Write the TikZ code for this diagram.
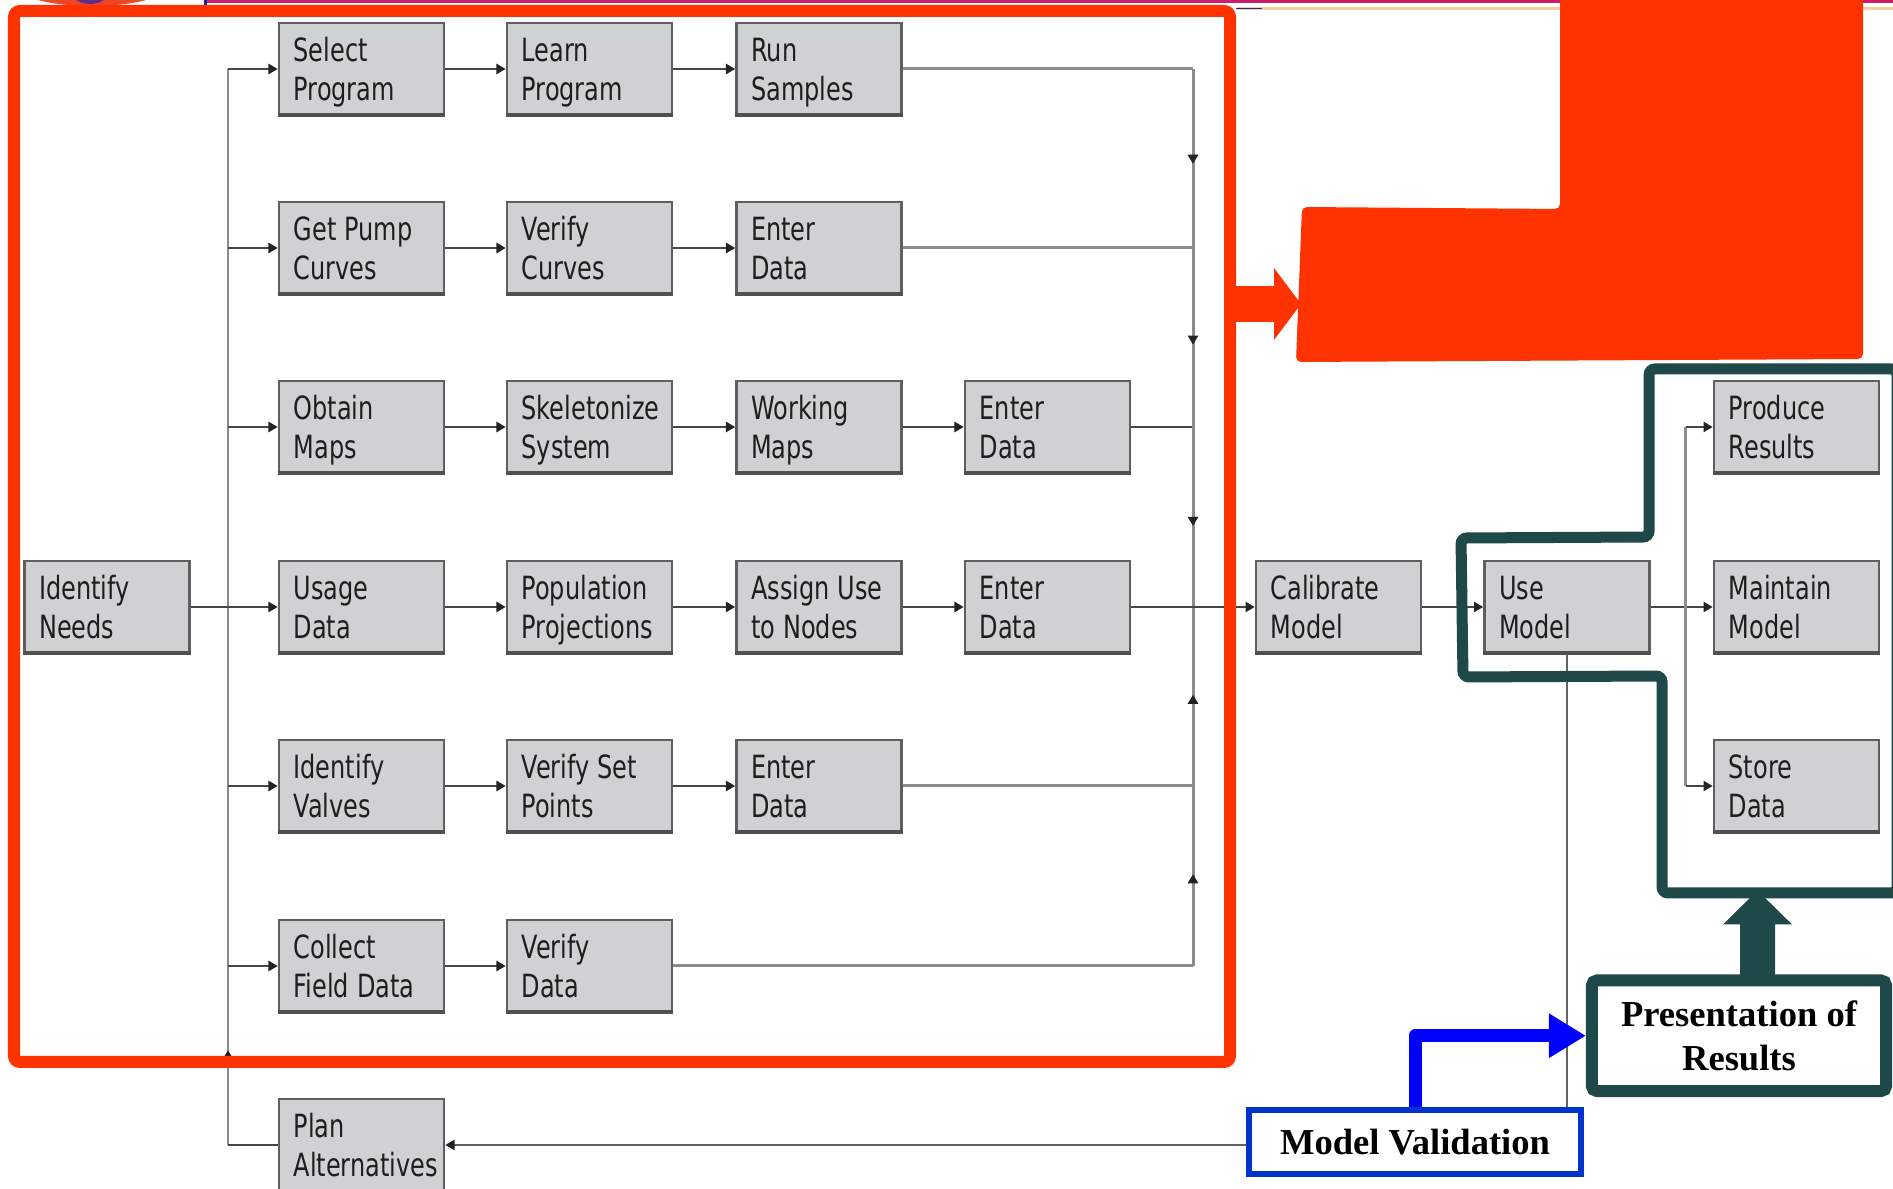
\documentclass[tikz,border=0pt]{standalone}
\usepackage{graphicx}
\usepackage{fontspec}
\usetikzlibrary{arrows.meta,decorations.markings}

\newfontfamily\boxfont{DejaVu Sans}
\newfontfamily\notefont{Liberation Serif}

\definecolor{boxfill}{RGB}{208,209,211}
\definecolor{boxline}{RGB}{95,95,95}
\definecolor{boxshade}{RGB}{80,80,80}
\definecolor{boxtext}{RGB}{30,30,30}
\definecolor{linkgray}{RGB}{70,70,70}
\definecolor{busgray}{RGB}{140,140,140}
\definecolor{tipgray}{RGB}{35,35,35}
\definecolor{framered}{RGB}{255,51,0}
\definecolor{deepteal}{RGB}{31,72,73}
\definecolor{valblue}{RGB}{0,51,204}
\definecolor{arrowblue}{RGB}{0,0,255}
\definecolor{headerpink}{RGB}{205,30,110}
\definecolor{headerpeach}{RGB}{250,205,160}
\definecolor{headerblue}{RGB}{25,40,150}
\definecolor{logored}{RGB}{238,70,40}
\definecolor{logopurple}{RGB}{95,45,140}

% two-line, left-aligned, horizontally condensed box label
\newcommand\boxtxt[2]{\raisebox{0pt}[\dimexpr\height+2.3pt\relax][\depth]{\scalebox{0.75}[1]{\begin{tabular}{@{}l@{}}#1\\#2\end{tabular}}}}

\tikzset{
  stepbox/.style={draw=boxline, fill=boxfill, line width=0.75pt,
    minimum height=0.92cm, inner xsep=0.147cm, inner ysep=0pt,
    text width=1.356cm, align=left, text=boxtext,
    font=\boxfont\fontsize{9.1pt}{11.1pt}\selectfont},
  link/.style={draw=linkgray, line width=0.55pt},
  buslink/.style={draw=busgray, line width=0.85pt},
  thinlink/.style={draw=linkgray!85, line width=0.45pt},
  tip/.style={-{Triangle[length=2.6pt,width=2.9pt,color=tipgray]}},
  midtip/.style={postaction={decorate}, decoration={markings,
    mark=at position #1 with {\arrow{Triangle[length=2.6pt,width=2.9pt,color=tipgray]}}}},
  notebox/.style={fill=white, inner sep=0pt, align=center,
    font=\notefont\bfseries\fontsize{10.4pt}{12.5pt}\selectfont},
}

\begin{document}
\begin{tikzpicture}[x=0.01cm, y=-0.01cm]
\useasboundingbox (0,0) rectangle (1893,1189);
\clip (0,0) rectangle (1893,1189);
\fill[white] (0,0) rectangle (1893,1189);

% strip of the page header
\fill[logored] (92,-14) ellipse [x radius=76, y radius=20];
\fill[logopurple] (90,-14) ellipse [x radius=22, y radius=18];
\fill[headerpink] (206,0) rectangle (1893,3.5);
\fill[headerblue] (204,0) rectangle (207,5);
\fill[headerpeach] (1237,7) rectangle (1893,10);
\fill[headerblue] (1236,8) rectangle (1262,9.5);

% ---------- process boxes ----------
\node[stepbox] (need)   at (107,607)    {\boxtxt{Identify}{Needs}};

\node[stepbox] (sel)    at (361.5,69)   {\boxtxt{Select}{Program}};
\node[stepbox] (learn)  at (589.5,69)   {\boxtxt{Learn}{Program}};
\node[stepbox] (run)    at (819,69)     {\boxtxt{Run}{Samples}};

\node[stepbox] (pump)   at (361.5,248)  {\boxtxt{Get Pump}{Curves}};
\node[stepbox] (vcurv)  at (589.5,248)  {\boxtxt{Verify}{Curves}};
\node[stepbox] (ent1)   at (819,248)    {\boxtxt{Enter}{Data}};

\node[stepbox] (maps)   at (361.5,427)  {\boxtxt{Obtain}{Maps}};
\node[stepbox] (skel)   at (589.5,427)  {\boxtxt{Skeletonize}{System}};
\node[stepbox] (wmaps)  at (819,427)    {\boxtxt{Working}{Maps}};
\node[stepbox] (ent2)   at (1047.5,427) {\boxtxt{Enter}{Data}};

\node[stepbox] (usage)  at (361.5,607)  {\boxtxt{Usage}{Data}};
\node[stepbox] (pop)    at (589.5,607)  {\boxtxt{Population}{Projections}};
\node[stepbox] (assign) at (819,607)    {\boxtxt{Assign Use}{to Nodes}};
\node[stepbox] (ent3)   at (1047.5,607) {\boxtxt{Enter}{Data}};
\node[stepbox] (calib)  at (1338.5,607) {\boxtxt{Calibrate}{Model}};
\node[stepbox] (use)    at (1567,607)   {\boxtxt{Use}{Model}};

\node[stepbox] (valves) at (361.5,786)  {\boxtxt{Identify}{Valves}};
\node[stepbox] (setpt)  at (589.5,786)  {\boxtxt{Verify Set}{Points}};
\node[stepbox] (ent4)   at (819,786)    {\boxtxt{Enter}{Data}};

\node[stepbox] (field)  at (361.5,966)  {\boxtxt{Collect}{Field Data}};
\node[stepbox] (vdata)  at (589.5,966)  {\boxtxt{Verify}{Data}};

\node[stepbox] (plan)   at (361.5,1145) {\boxtxt{Plan}{Alternatives}};

\node[stepbox] (prod)   at (1796.5,427) {\boxtxt{Produce}{Results}};
\node[stepbox] (maint)  at (1796.5,607) {\boxtxt{Maintain}{Model}};
\node[stepbox] (store)  at (1796.5,786) {\boxtxt{Store}{Data}};

% darker lower edge of every box
\foreach \n in {need,sel,learn,run,pump,vcurv,ent1,maps,skel,wmaps,ent2,
                usage,pop,assign,ent3,calib,use,valves,setpt,ent4,field,vdata,
                plan,prod,maint,store}
  \draw[boxshade, line width=1.1pt] ([yshift=0.5pt]\n.south west) -- ([yshift=0.5pt]\n.south east);

% ---------- bus junctions ----------
\foreach \r/\y in {1/69,2/248,3/427,4/607,5/786,6/966,7/1145} {
  \coordinate (lb\r) at (228,\y);
  \coordinate (rb\r) at (1193,\y);
}
\coordinate (ub1) at (1685.5,427);
\coordinate (ub3) at (1685.5,786);

% left distribution bus
\draw[buslink] (lb1) -- (lb6);
\draw[buslink, midtip=0.53] (lb7) -- (lb6);
\draw[link] (need) -- (lb4);
\foreach \r/\n in {1/sel,2/pump,3/maps,4/usage,5/valves,6/field}
  \draw[link, tip] (lb\r) -- (\n);
\draw[link] (plan) -- (lb7);

% rows
\draw[link, tip] (sel) -- (learn);
\draw[link, tip] (learn) -- (run);
\draw[link, tip] (pump) -- (vcurv);
\draw[link, tip] (vcurv) -- (ent1);
\draw[link, tip] (maps) -- (skel);
\draw[link, tip] (skel) -- (wmaps);
\draw[link, tip] (wmaps) -- (ent2);
\draw[link, tip] (usage) -- (pop);
\draw[link, tip] (pop) -- (assign);
\draw[link, tip] (assign) -- (ent3);
\draw[link, tip] (valves) -- (setpt);
\draw[link, tip] (setpt) -- (ent4);
\draw[link, tip] (field) -- (vdata);

% collecting bus on the right
\draw[buslink] (run) -- (rb1);
\draw[buslink] (ent1) -- (rb2);
\draw[link] (ent2) -- (rb3);
\draw[buslink] (ent4) -- (rb5);
\draw[buslink] (vdata) -- (rb6);
\draw[buslink, midtip=0.53] (rb1) -- (rb2);
\draw[buslink, midtip=0.54] (rb2) -- (rb3);
\draw[buslink, midtip=0.55] (rb3) -- (rb4);
\draw[buslink, midtip=0.51] (rb6) -- (rb5);
\draw[buslink, midtip=0.51] (rb5) -- (rb4);
\draw[link, tip] (ent3) -- (calib);

% model stage
\draw[link, tip] (calib) -- (use);
\draw[link, tip] (use) -- (maint);
\draw[buslink] (ub1) -- (ub3);
\draw[link, tip] (ub1) -- (prod);
\draw[link, tip] (ub3) -- (store);
\draw[thinlink, tip] (use.south) |- (plan.east);

% ---------- highlighting ----------
\draw[framered, line width=0.12cm, rounded corners=0.06cm] (14,11) rectangle (1230,1062);
\fill[framered, rounded corners=0.05cm]
  (1560,-20) -- (1863,-20) -- (1863,359) -- (1296,362) -- (1302,207) -- (1560,209) -- cycle;
\fill[framered] (1224,286) rectangle (1275,322);
\fill[framered] (1274,268) -- (1301,304) -- (1274,340) -- cycle;

\draw[deepteal, line width=0.11cm, rounded corners=0.06cm]
  (1897,369) -- (1649,369) -- (1649,537) -- (1461,538) -- (1463,677)
  -- (1662,676) -- (1662,893) -- (1897,893) -- cycle;

\node[notebox, draw=deepteal, line width=0.12cm, rounded corners=0.05cm,
  minimum width=2.94cm, minimum height=1.105cm] (pres) at (1739,1035.75)
  {Presentation of\\Results};
\fill[deepteal] ([xshift=0.185cm]pres.north) ++(-17.5,3) -- ++(0,-53) -- ++(-17,0)
  -- ++(34.5,-34) -- ++(34.5,34) -- ++(-17,0) -- ++(0,53) -- cycle;

\node[notebox, draw=valblue, line width=0.06cm,
  minimum width=3.32cm, minimum height=0.64cm] (mv) at (1415,1142) {Model Validation};
\draw[arrowblue, line width=0.13cm, line join=round,
  -{Triangle[length=0.37cm,width=0.42cm]}] (mv.north) |- (pres.west);
\end{tikzpicture}
\end{document}
